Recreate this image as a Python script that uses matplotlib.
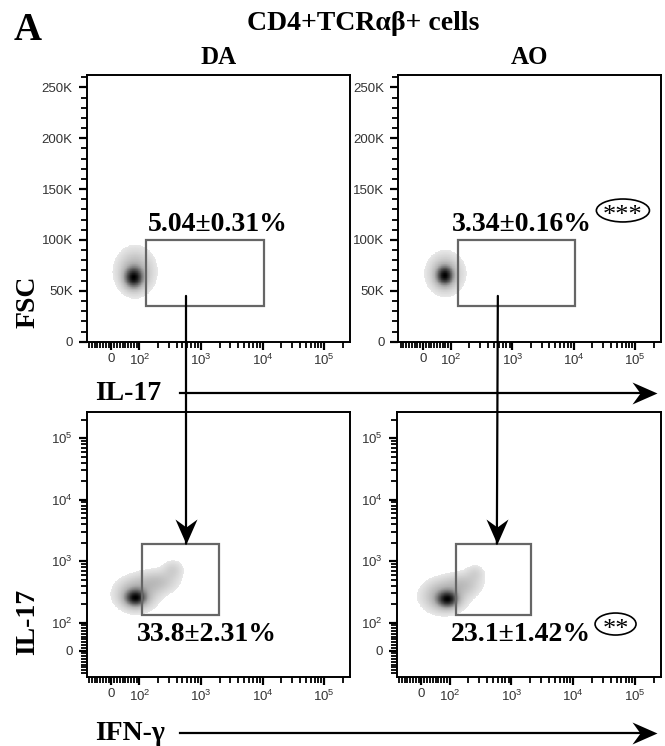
import numpy as np
import matplotlib
matplotlib.use("Agg")
import matplotlib.pyplot as plt
from matplotlib.patches import Rectangle, Ellipse, ConnectionPatch
from matplotlib.lines import Line2D
from matplotlib.path import Path
from matplotlib.scale import SymmetricalLogTransform
from matplotlib.colors import LinearSegmentedColormap

plt.rcParams['font.family'] = ['Liberation Sans', 'DejaVu Sans']
plt.rcParams['mathtext.fontset'] = 'custom'
plt.rcParams['mathtext.rm'] = 'Liberation Sans'
plt.rcParams['mathtext.it'] = 'Liberation Sans:italic'
SERIF = ['Liberation Serif', 'DejaVu Serif']

# ---- data ----
groups = ["DA", "AO"]
il17_pct = ["5.04\u00b10.31%", "3.34\u00b10.16%"]
ifng_pct = ["33.8\u00b12.31%", "23.1\u00b11.42%"]
il17_sig = ["", "***"]
ifng_sig = ["", "**"]

# gates: x0, x1, y0, y1 (data units)
il17_gate = [(130, 10500, 35000, 100000), (130, 10500, 35000, 100000)]
ifng_gate = [(110, 1950, 132, 1920), (125, 2100, 132, 1920)]

# density blobs: x, y centre (data), spread x (decades*100), spread y, weight
fsc_blobs = [
    [(80, 63000, 9, 6000, 1.0), (85, 69000, 18, 13000, 0.3)],
    [(78, 65000, 8, 5500, 1.0), (80, 67000, 17, 11500, 0.3)],
]
# bottom panels: spreads in decades*100 on both axes
ifn_blobs = [
    [(86, 253, 10, 8, 1.0), (88, 290, 20, 16, 0.35), (197, 460, 20, 12, 0.2), (350, 730, 11, 10, 0.12)],
    [(92, 240, 10, 8, 1.0), (80, 270, 21, 16, 0.35), (170, 420, 18, 12, 0.18), (260, 640, 10, 9, 0.1)],
]

# arrow x position (data) for the gate-to-gate arrows
link_x = [570, 580]

LINTHRESH, LINSCALE = 100, 0.41
T = SymmetricalLogTransform(10, LINTHRESH, LINSCALE)
Tinv = T.inverted()

fig = plt.figure(figsize=(6.65, 7.46), dpi=100)
W, H = 665, 746


def px_axes(x0, x1, ytop, ybot):
    return fig.add_axes([x0 / W, 1 - ybot / H, (x1 - x0) / W, (ybot - ytop) / H])


cmap = LinearSegmentedColormap.from_list("flow", ["#e8e8e8", "#b0b0b0", "#555555", "#000000"])

# notched arrow heads (tip at the origin)
head_down = Path([(0, 0), (-0.44, 1), (0, 0.68), (0.44, 1), (0, 0)],
                 [Path.MOVETO, Path.LINETO, Path.LINETO, Path.LINETO, Path.CLOSEPOLY])
head_right = Path([(0, 0), (-1, 0.44), (-0.68, 0), (-1, -0.44), (0, 0)],
                  [Path.MOVETO, Path.LINETO, Path.LINETO, Path.LINETO, Path.CLOSEPOLY])
HEAD_MS = 36


def logicle(ax, which):
    axis = ax.xaxis if which == "x" else ax.yaxis
    if which == "x":
        ax.set_xscale("symlog", linthresh=LINTHRESH, linscale=LINSCALE)
        ax.set_xlim(-88, 262144)
    else:
        ax.set_yscale("symlog", linthresh=LINTHRESH, linscale=LINSCALE)
        ax.set_ylim(-95, 262144)
    major = [0, 1e2, 1e3, 1e4, 1e5]
    labels = ["0", r"$10^2$", r"$10^3$", r"$10^4$", r"$10^5$"]
    minor = list(range(-80, 0, 10)) + list(range(10, 100, 10))
    minor += [k * 10 ** e for e in (2, 3, 4) for k in range(2, 10)] + [2e5]
    axis.set_ticks(major)
    axis.set_ticklabels(labels)
    axis.set_ticks(minor, minor=True)


def style(ax):
    for s in ax.spines.values():
        s.set_linewidth(1.4)
        s.set_color("black")
    ax.tick_params(which="major", direction="out", length=6, width=1.6, labelsize=9.5,
                   labelcolor="#333333", pad=2)
    ax.tick_params(which="minor", direction="out", length=4, width=1.3)
    ax.tick_params(axis="y", which="major", pad=4)


def density(ax, blobs, ylin):
    gx = np.linspace(-45, 245, 420)
    if ylin:
        gy = np.linspace(0, 262144, 420)
    else:
        gy = np.linspace(-45, 245, 420)
    TX, TY = np.meshgrid(gx, gy)
    Z = np.zeros_like(TX)
    for bx, by, sx, sy, w in blobs:
        cx = T.transform(np.array([bx], float))[0]
        cy = by if ylin else T.transform(np.array([by], float))[0]
        Z += w * np.exp(-0.5 * (((TX - cx) / sx) ** 2 + ((TY - cy) / sy) ** 2))
    Z = Z / Z.max()
    lo = 0.03
    Z = np.ma.masked_less(Z, lo)
    X = Tinv.transform(gx)
    Y = gy if ylin else Tinv.transform(gy)
    ax.pcolormesh(X, Y, Z ** 0.6, cmap=cmap, vmin=lo ** 0.6, vmax=1,
                  shading="nearest", zorder=1)


top_axes, bot_axes = [], []
top_px = [(86.7, 350), (398.3, 661)]
bot_px = [(86.7, 350), (396.7, 661)]

for i in range(2):
    ax = px_axes(top_px[i][0], top_px[i][1], 75, 341.7)
    logicle(ax, "x")
    ax.set_ylim(0, 262144)
    ax.set_yticks([0, 50000, 100000, 150000, 200000, 250000])
    ax.set_yticklabels(["0", "50K", "100K", "150K", "200K", "250K"])
    ax.set_yticks(np.arange(10000, 262144, 10000), minor=True)
    style(ax)
    density(ax, fsc_blobs[i], True)
    x0, x1, y0, y1 = il17_gate[i]
    ax.add_patch(Rectangle((x0, y0), x1 - x0, y1 - y0, fill=False, ec="#666666", lw=1.6, zorder=3))
    tx = [0.499, 0.471][i]
    ax.text(tx, 0.441, il17_pct[i], transform=ax.transAxes, ha="center", va="center",
            fontsize=20, fontweight="bold", family=SERIF)
    if il17_sig[i]:
        ax.add_patch(Ellipse((0.855, 0.492), 0.202, 0.086, transform=ax.transAxes,
                             fill=False, ec="black", lw=1.2, clip_on=False))
        ax.text(0.855, 0.470, il17_sig[i], transform=ax.transAxes, ha="center", va="center",
                fontsize=19, family=SERIF)
    fig.text((top_px[i][0] + top_px[i][1]) / 2 / W, 1 - 58 / H, groups[i], ha="center",
             va="center", fontsize=18, fontweight="bold", family=SERIF)
    top_axes.append(ax)

for i in range(2):
    ax = px_axes(bot_px[i][0], bot_px[i][1], 412.3, 677.3)
    logicle(ax, "x")
    logicle(ax, "y")
    style(ax)
    density(ax, ifn_blobs[i], False)
    x0, x1, y0, y1 = ifng_gate[i]
    ax.add_patch(Rectangle((x0, y0), x1 - x0, y1 - y0, fill=False, ec="#666666", lw=1.6, zorder=3))
    tx = [0.456, 0.470][i]
    ax.text(tx, 0.163, ifng_pct[i], transform=ax.transAxes, ha="center", va="center",
            fontsize=20, fontweight="bold", family=SERIF)
    if ifng_sig[i]:
        ax.add_patch(Ellipse((0.828, 0.201), 0.155, 0.083, transform=ax.transAxes,
                             fill=False, ec="black", lw=1.2, clip_on=False))
        ax.text(0.828, 0.179, ifng_sig[i], transform=ax.transAxes, ha="center", va="center",
                fontsize=19, family=SERIF)
    bot_axes.append(ax)

# gate-to-gate arrows: line plus notched head on the lower gate
for i in range(2):
    tip = (link_x[i], ifng_gate[i][3])
    con = ConnectionPatch(xyA=(link_x[i], 45000), coordsA=top_axes[i].transData,
                          xyB=tip, coordsB=bot_axes[i].transData,
                          arrowstyle="-", lw=1.6, color="black", zorder=5)
    fig.add_artist(con)
    bot_axes[i].plot([tip[0]], [tip[1]], marker=head_down, ms=HEAD_MS, color="black",
                     mew=0, clip_on=False, zorder=6)

# horizontal parameter arrows
for ypx, lab in [(393, "IL-17"), (733, "IFN-\u03b3")]:
    fig.add_artist(Line2D([180 / W, 645 / W], [1 - ypx / H] * 2, transform=fig.transFigure,
                          lw=1.6, color="black"))
    fig.add_artist(Line2D([657 / W], [1 - ypx / H], transform=fig.transFigure,
                          marker=head_right, ms=HEAD_MS, color="black", mew=0))
    fig.text(95 / W, 1 - ypx / H, lab, ha="left", va="center", fontsize=20,
             fontweight="bold", family=SERIF)

fig.text(28 / W, 1 - 302 / H, "FSC", rotation=90, ha="center", va="center", fontsize=20,
         fontweight="bold", family=SERIF)
fig.text(28 / W, 1 - 622 / H, "IL-17", rotation=90, ha="center", va="center", fontsize=20,
         fontweight="bold", family=SERIF)
fig.text(14 / W, 1 - 31 / H, "A", ha="left", va="center", fontsize=28, fontweight="bold",
         family=SERIF)
fig.text(363 / W, 1 - 23 / H, "CD4+TCR\u03b1\u03b2+ cells", ha="center", va="center",
         fontsize=20, fontweight="bold", family=SERIF)

fig.savefig("out.png", dpi=100)
